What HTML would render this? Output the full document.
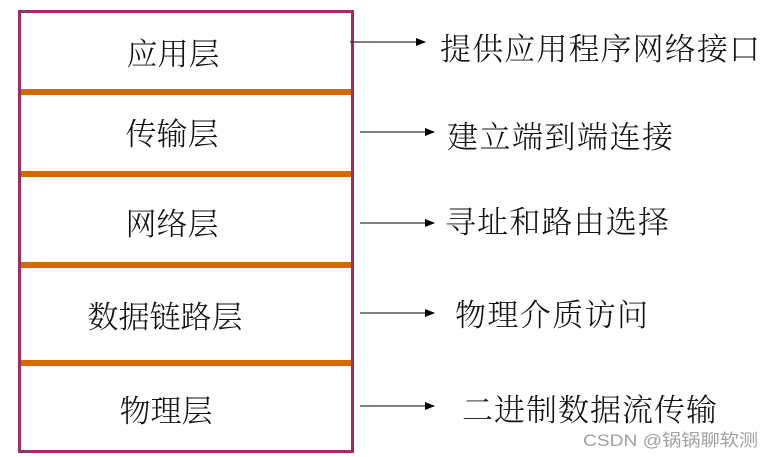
<!DOCTYPE html>
<html><head><meta charset="utf-8"><style>
html,body{margin:0;padding:0;background:#fff;}
svg{display:block;}
text{font-family:"Liberation Serif","Noto Serif CJK SC",serif;fill:#111;font-weight:300;}
</style></head><body>
<svg width="769" height="457" viewBox="0 0 769 457" xmlns="http://www.w3.org/2000/svg">
<defs><marker id="a" markerWidth="10" markerHeight="8" refX="9" refY="4" orient="auto" markerUnits="userSpaceOnUse"><path d="M0,0 L10,4 L0,8 z" fill="#000"/></marker></defs>
<rect x="19.5" y="11.5" width="333" height="440" fill="#fff" stroke="#9b2d62" stroke-width="3"/>
<g fill="#d26a00">
<rect x="21" y="89" width="330" height="6"/>
<rect x="21" y="171" width="330" height="6"/>
<rect x="21" y="262" width="330" height="6"/>
<rect x="21" y="360" width="330" height="6"/>
</g>
<g font-size="31" text-anchor="middle">
<text x="173" y="65">应用层</text>
<text x="172" y="145">传输层</text>
<text x="172" y="235">网络层</text>
<text x="165" y="328">数据链路层</text>
<text x="166" y="422">物理层</text>
</g>
<g stroke="#333" stroke-width="1.2">
<line x1="350" y1="42" x2="425" y2="42" marker-end="url(#a)"/>
<line x1="360" y1="132" x2="434" y2="132" marker-end="url(#a)"/>
<line x1="360" y1="223" x2="434" y2="223" marker-end="url(#a)"/>
<line x1="360" y1="313" x2="434" y2="313" marker-end="url(#a)"/>
<line x1="360" y1="406" x2="434" y2="406" marker-end="url(#a)"/>
</g>
<g font-size="31">
<text x="440" y="60" textLength="320">提供应用程序网络接口</text>
<text x="447" y="148" textLength="226">建立端到端连接</text>
<text x="445" y="233" textLength="224">寻址和路由选择</text>
<text x="455" y="326" textLength="193">物理介质访问</text>
<text x="462" y="421" textLength="255">二进制数据流传输</text>
</g>
<text x="583" y="446" font-size="17" textLength="175" lengthAdjust="spacingAndGlyphs" style="fill:#a0a0a0;font-family:'Liberation Sans','Noto Sans CJK SC',sans-serif;font-weight:400">CSDN @锅锅聊软测</text>
</svg>
</body></html>
